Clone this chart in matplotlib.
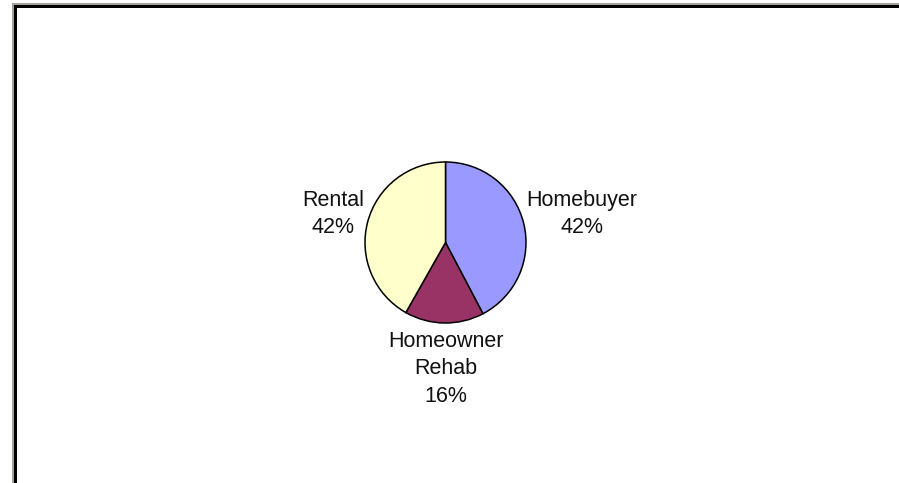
import matplotlib
matplotlib.use('Agg')
import matplotlib.pyplot as plt
from matplotlib.patches import Rectangle

# pie data (share of funds, percent)
categories = ['Homebuyer', 'Homeowner\nRehab', 'Rental']
shares = [42.3, 15.9, 41.8]
slice_colors = ['#9999ff', '#993366', '#ffffcc']

W, H = 899, 483
fig = plt.figure(figsize=(W / 100, H / 100), dpi=100)
fig.patch.set_facecolor('white')

# frame lines at top and left (window edge)
def px_rect(x0, y0, x1, y1, color):
    # pixel box given top-down, converted to figure fractions
    fig.patches.append(Rectangle((x0 / W, 1 - y1 / H), (x1 - x0) / W, (y1 - y0) / H,
                                 transform=fig.transFigure, color=color, lw=0, zorder=5))

px_rect(12, 3, W, 5, '#a6a39b')
px_rect(12, 3, 14, H, '#a6a39b')
px_rect(14, 5, W, 8, 'black')
px_rect(14, 5, 17, H, 'black')

# pie axes: center (445.5, 242.5), radius 80.5 px
cx, cy, r = 445.5, 242.5, 80.5
ax = fig.add_axes([(cx - r) / W, 1 - (cy + r) / H, 2 * r / W, 2 * r / H])
ax.pie(shares, colors=slice_colors, startangle=90, counterclock=False,
       wedgeprops={'edgecolor': 'black', 'linewidth': 1.1})
ax.set_xlim(-1, 1)
ax.set_ylim(-1, 1)
ax.set_aspect('equal')
ax.axis('off')

label_pos = [(1.69, 0.354), (0.0, -1.57), (-1.40, 0.354)]
for name, val, (lx, ly) in zip(categories, shares, label_pos):
    ax.text(lx, ly, '%s\n%d%%' % (name, round(val)), ha='center', va='center',
            fontsize=15.5, family='Liberation Sans', linespacing=1.4, color='#111111')

fig.savefig('out.png', dpi=100)
